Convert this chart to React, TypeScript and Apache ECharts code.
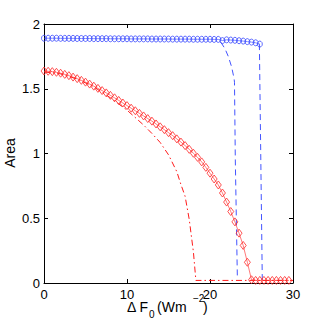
import React, { useEffect, useRef } from "react";
import * as echarts from "echarts";

// shared x sample positions (ΔF0)
const xSteps = [
  0, 0.5, 1, 1.5, 2, 2.5, 3, 3.5, 4, 4.5, 5, 5.5, 6, 6.5, 7, 7.5, 8, 8.5, 9, 9.5,
  10, 10.5, 11, 11.5, 12, 12.5, 13, 13.5, 14, 14.5, 15, 15.5, 16, 16.5, 17, 17.5, 18, 18.5, 19, 19.5,
  20, 20.5, 21, 21.5, 22, 22.5, 23, 23.5, 24, 24.5, 25, 25.5, 26, 26.5, 27, 27.5, 28, 28.5, 29, 29.5,
];

// blue circles (0 .. 26)
const blueCircles = [
  1.890, 1.890, 1.890, 1.890, 1.889, 1.889, 1.889, 1.889, 1.888, 1.888,
  1.888, 1.888, 1.887, 1.887, 1.887, 1.887, 1.886, 1.886, 1.886, 1.886,
  1.886, 1.885, 1.885, 1.885, 1.885, 1.885, 1.884, 1.884, 1.884, 1.884,
  1.884, 1.883, 1.883, 1.883, 1.883, 1.883, 1.882, 1.882, 1.882, 1.882,
  1.882, 1.881, 1.881, 1.872, 1.878, 1.876, 1.874, 1.871, 1.868, 1.864,
  1.860, 1.855, 1.845,
];

// red diamonds (0 .. 29.5)
const redDiamonds = [
  1.637, 1.635, 1.632, 1.627, 1.620, 1.611, 1.601, 1.590, 1.578, 1.565,
  1.551, 1.536, 1.520, 1.503, 1.486, 1.468, 1.449, 1.430, 1.410, 1.390,
  1.370, 1.350, 1.330, 1.310, 1.290, 1.270, 1.250, 1.228, 1.206, 1.184,
  1.161, 1.138, 1.113, 1.088, 1.061, 1.032, 1.002, 0.970, 0.935, 0.893,
  0.848, 0.803, 0.757, 0.695, 0.625, 0.552, 0.472, 0.385, 0.290, 0.160,
  0.025, 0.020, 0.020, 0.020, 0.020, 0.020, 0.020, 0.020, 0.020, 0.020,
];

// red dash-dot curve
const redDashX = [0, 2, 4, 6, 8, 10, 12, 13, 14, 15, 16, 16.5, 17, 17.5, 18, 18.3, 30];
const redDashY = [1.63, 1.615, 1.575, 1.515, 1.43, 1.335, 1.22, 1.155, 1.085, 0.99, 0.86, 0.76, 0.67, 0.49, 0.24, 0.02, 0.02];

// blue dashed curves
const blueDash1X = [21.3, 21.8, 22.2, 22.6, 22.9, 22.95, 23.05, 23.3];
const blueDash1Y = [1.86, 1.81, 1.75, 1.67, 1.58, 1.55, 0.95, 0.03];
const blueDash2X = [25.95, 26.3];
const blueDash2Y = [1.845, 0.02];

const xTicks = [0, 10, 20, 30];
const yTicks = [0, 0.5, 1, 1.5, 2];

const FONT = "'Liberation Sans', Arial, sans-serif";

const zip = (xs: number[], ys: number[]) => ys.map((y, i) => [xs[i], y]);

export default function App() {
  const ref = useRef<HTMLDivElement>(null);
  useEffect(() => {
    if (!ref.current) return;
    const chart = echarts.init(ref.current, undefined, { renderer: "svg" });
    const axisCommon = {
      type: "value" as const,
      splitLine: { show: false },
      axisTick: { show: true, inside: true, length: 4, lineStyle: { color: "#000", width: 1 } },
      axisLine: { show: true, onZero: false, lineStyle: { color: "#000", width: 1 } },
    };
    chart.setOption({
      animation: false,
      backgroundColor: "#fff",
      grid: { left: 44, right: 29, top: 24, bottom: 39, containLabel: false },
      xAxis: [
        {
          ...axisCommon,
          position: "bottom",
          min: xTicks[0],
          max: xTicks[xTicks.length - 1],
          interval: 10,
          axisLabel: { fontSize: 13, color: "#000", fontFamily: FONT, margin: 5 },
        },
        {
          ...axisCommon,
          position: "top",
          min: xTicks[0],
          max: xTicks[xTicks.length - 1],
          interval: 10,
          axisLabel: { show: false },
        },
      ],
      yAxis: [
        {
          ...axisCommon,
          position: "left",
          min: yTicks[0],
          max: yTicks[yTicks.length - 1],
          interval: 0.5,
          axisLabel: { fontSize: 13, color: "#000", fontFamily: FONT, margin: 4 },
        },
        {
          ...axisCommon,
          position: "right",
          min: yTicks[0],
          max: yTicks[yTicks.length - 1],
          interval: 0.5,
          axisLabel: { show: false },
        },
      ],
      series: [
        {
          type: "line",
          data: zip(xSteps, blueCircles),
          symbol: "circle",
          symbolSize: [5, 6],
          showAllSymbol: true,
          lineStyle: { color: "#3344ff", width: 0.6 },
          itemStyle: { color: "rgba(0,0,0,0)", borderColor: "#3848ff", borderWidth: 0.8 },
          clip: false,
        },
        {
          type: "line",
          data: zip(blueDash1X, blueDash1Y),
          symbol: "none",
          lineStyle: { color: "#4455ff", width: 1, type: [6, 4] },
          clip: false,
        },
        {
          type: "line",
          data: zip(blueDash2X, blueDash2Y),
          symbol: "none",
          lineStyle: { color: "#4455ff", width: 1, type: [6, 4] },
          clip: false,
        },
        {
          type: "line",
          data: zip(redDashX, redDashY),
          symbol: "none",
          lineStyle: { color: "#ff1a1a", width: 1, type: [6, 3, 1.5, 3] },
          clip: false,
        },
        {
          type: "line",
          data: zip(xSteps, redDiamonds),
          symbol: "diamond",
          symbolSize: [6, 8],
          showAllSymbol: true,
          lineStyle: { color: "#ff2020", width: 0.6 },
          itemStyle: { color: "rgba(0,0,0,0)", borderColor: "#ff2a2a", borderWidth: 0.8 },
          clip: false,
        },
      ],
      graphic: [
        {
          type: "text",
          x: 10,
          y: 153,
          rotation: Math.PI / 2,
          style: { text: "Area", font: `14px ${FONT}`, fill: "#000", align: "center", verticalAlign: "middle" },
        },
        {
          type: "text",
          x: 127,
          y: 307,
          style: { text: "Δ F", font: `14px ${FONT}`, fill: "#000", align: "left", verticalAlign: "middle" },
        },
        {
          type: "text",
          x: 149,
          y: 314.5,
          style: { text: "0", font: `10px ${FONT}`, fill: "#000", align: "left", verticalAlign: "middle" },
        },
        {
          type: "text",
          x: 157,
          y: 307,
          style: { text: "(Wm", font: `14px ${FONT}`, fill: "#000", align: "left", verticalAlign: "middle" },
        },
        {
          type: "text",
          x: 193,
          y: 298,
          style: { text: "−2", font: `10px ${FONT}`, fill: "#000", align: "left", verticalAlign: "middle" },
        },
        {
          type: "text",
          x: 203,
          y: 307,
          style: { text: ")", font: `14px ${FONT}`, fill: "#000", align: "left", verticalAlign: "middle" },
        },
      ],
    });
    return () => chart.dispose();
  }, []);
  return (
    <div
      ref={ref}
      style={{ position: "fixed", left: 0, top: 0, width: 322, height: 322 }}
    />
  );
}
